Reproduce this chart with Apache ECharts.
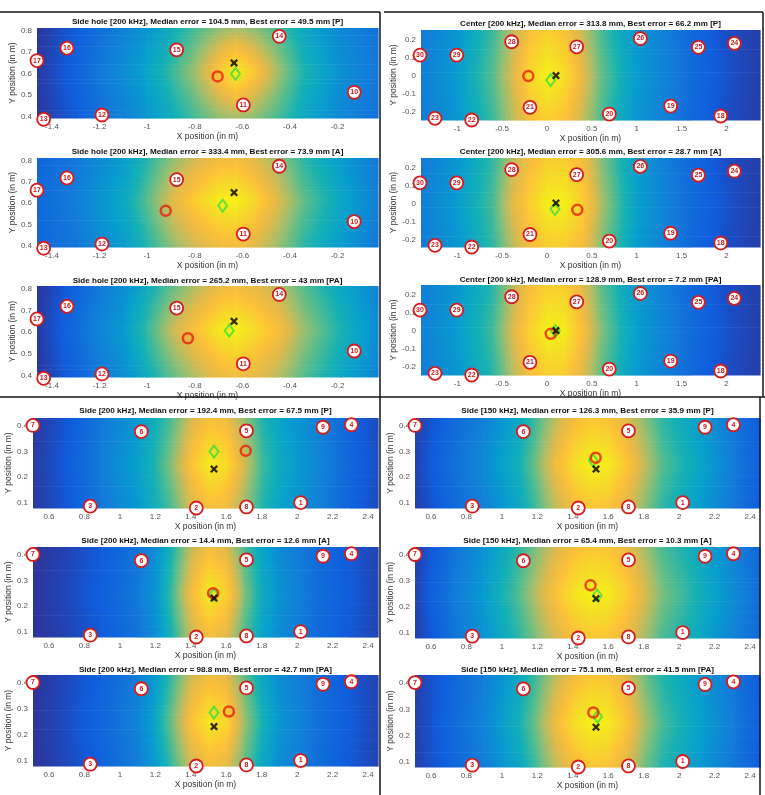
<!DOCTYPE html>
<html>
<head>
<meta charset="utf-8">
<script src="https://cdn.jsdelivr.net/npm/echarts@6/dist/echarts.min.js"></script>
<style>
html, body { margin: 0; padding: 0; background: #fff; }
#chart { width: 765px; height: 795px; }
</style>
</head>
<body>
<div id="chart"></div>
<script>
// sensors: [label, x, y]
const holeSensors = [['16', -1.337, 0.719], ['15', -0.876, 0.711], ['14', -0.445, 0.774], ['17', -1.463, 0.661],
    ['13', -1.435, 0.387], ['12', -1.19, 0.407], ['11', -0.596, 0.454], ['10', -0.13, 0.513]];
const centerSensors = [['28', -0.394, 0.19], ['27', 0.331, 0.162], ['26', 1.041, 0.208], ['25', 1.688, 0.159],
    ['24', 2.089, 0.181], ['30', -1.416, 0.116], ['29', -1.007, 0.116], ['23', -1.249, -0.234], ['22', -0.84, -0.243],
    ['21', -0.19, -0.173], ['20', 0.695, -0.21], ['19', 1.379, -0.166], ['18', 1.937, -0.221]];
const sideSensors = [['7', 0.51, 0.402], ['6', 1.121, 0.378], ['5', 1.714, 0.381], ['9', 2.146, 0.395], ['4', 2.306, 0.405],
    ['3', 0.833, 0.087], ['2', 1.431, 0.08], ['8', 1.714, 0.084], ['1', 2.02, 0.101]];

// true source positions
const holeTruth = [-0.635, 0.65];
const centerTruth = [0.1, 0.003];
const sideTruth = [1.531, 0.232];

// per panel: estimate (red circle) and best (green diamond)
const estimates = [[-0.704, 0.587], [-0.922, 0.564], [-0.829, 0.572], [-0.208, 0.0], [0.338, -0.035], [0.041, -0.015],
    [1.71, 0.303], [1.526, 0.251], [1.615, 0.29], [1.529, 0.276], [1.5, 0.283], [1.516, 0.288]];
const bests = [[-0.629, 0.599], [-0.683, 0.588], [-0.655, 0.607], [0.041, -0.022], [0.089, -0.031], [0.093, 0.0],
    [1.531, 0.3], [1.53, 0.245], [1.531, 0.286], [1.515, 0.265], [1.538, 0.244], [1.54, 0.272]];

const panelTitles = [
    'Side hole [200 kHz], Median error = 104.5 mm, Best error = 49.5 mm [P]',
    'Side hole [200 kHz], Median error = 333.4 mm, Best error = 73.9 mm [A]',
    'Side hole [200 kHz], Median error = 265.2 mm, Best error = 43 mm [PA]',
    'Center [200 kHz], Median error = 313.8 mm, Best error = 66.2 mm [P]',
    'Center [200 kHz], Median error = 305.6 mm, Best error = 28.7 mm [A]',
    'Center [200 kHz], Median error = 128.9 mm, Best error = 7.2 mm [PA]',
    'Side [200 kHz], Median error = 192.4 mm, Best error = 67.5 mm [P]',
    'Side [200 kHz], Median error = 14.4 mm, Best error = 12.6 mm [A]',
    'Side [200 kHz], Median error = 98.8 mm, Best error = 42.7 mm [PA]',
    'Side [150 kHz], Median error = 126.3 mm, Best error = 35.9 mm [P]',
    'Side [150 kHz], Median error = 65.4 mm, Best error = 10.3 mm [A]',
    'Side [150 kHz], Median error = 75.1 mm, Best error = 41.5 mm [PA]'
];

// axis ticks
const holeXTicks = [-1.4, -1.2, -1, -0.8, -0.6, -0.4, -0.2];
const holeYTicks = [0.4, 0.5, 0.6, 0.7, 0.8];
const centerXTicks = [-1, -0.5, 0, 0.5, 1, 1.5, 2];
const centerYTicks = [-0.2, -0.1, 0, 0.1, 0.2];
const sideXTicks = [0.6, 0.8, 1, 1.2, 1.4, 1.6, 1.8, 2, 2.2, 2.4];
const sideYTicks = [0.1, 0.2, 0.3, 0.4];

// error-map nodes (x columns, y rows top/mid/bottom) and normalized levels
const holeXs = [-1.463, -1.3, -1.1, -1.0, -0.9, -0.8, -0.7, -0.63, -0.55, -0.45, -0.35, -0.2, -0.03];
const holeYs = [0.813, 0.61, 0.393];
const centerXs = [-1.405, -1.0, -0.6, -0.4, -0.2, 0, 0.2, 0.4, 0.6, 0.8, 1.0, 1.3, 1.6, 2.0, 2.375];
const centerYs = [0.255, 0.0, -0.243];
const sideXs = [0.51, 0.7, 0.9, 1.1, 1.2, 1.3, 1.4, 1.5, 1.6, 1.7, 1.8, 1.9, 2.1, 2.3, 2.456];
const sideYs = [0.431, 0.25, 0.08];

const holePTop = [0.02, 0.1, 0.21, 0.28, 0.37, 0.47, 0.57, 0.6, 0.56, 0.47, 0.36, 0.24, 0.16];
const holePMid = [0.03, 0.12, 0.25, 0.33, 0.45, 0.6, 0.82, 0.97, 0.82, 0.6, 0.42, 0.27, 0.18];
const holeATop = [0.13, 0.18, 0.3, 0.42, 0.56, 0.67, 0.75, 0.76, 0.7, 0.58, 0.44, 0.31, 0.18];
const holeAMid = [0.14, 0.2, 0.35, 0.5, 0.7, 0.85, 0.96, 0.97, 0.88, 0.7, 0.52, 0.36, 0.2];
const holePATop = [0.02, 0.12, 0.25, 0.37, 0.5, 0.62, 0.73, 0.76, 0.72, 0.63, 0.5, 0.36, 0.22];
const holePAMid = [0.03, 0.15, 0.3, 0.45, 0.65, 0.8, 0.94, 0.97, 0.9, 0.78, 0.6, 0.42, 0.25];

const centerPTop = [0.19, 0.28, 0.46, 0.62, 0.78, 0.85, 0.8, 0.65, 0.48, 0.37, 0.28, 0.21, 0.14, 0.07, 0.04];
const centerPMid = [0.2, 0.3, 0.5, 0.68, 0.88, 0.97, 0.9, 0.72, 0.52, 0.4, 0.3, 0.22, 0.15, 0.08, 0.04];
const centerATop = [0.19, 0.28, 0.44, 0.62, 0.76, 0.84, 0.84, 0.76, 0.56, 0.42, 0.3, 0.21, 0.14, 0.07, 0.04];
const centerAMid = [0.2, 0.3, 0.48, 0.7, 0.85, 0.96, 0.96, 0.85, 0.62, 0.45, 0.32, 0.22, 0.15, 0.08, 0.04];
const centerPATop = [0.2, 0.28, 0.43, 0.61, 0.77, 0.85, 0.84, 0.7, 0.51, 0.39, 0.29, 0.21, 0.14, 0.07, 0.04];
const centerPAMid = [0.21, 0.3, 0.47, 0.68, 0.86, 0.97, 0.95, 0.78, 0.56, 0.42, 0.31, 0.22, 0.15, 0.08, 0.04];

const side200PTop = [0.03, 0.09, 0.18, 0.29, 0.38, 0.5, 0.68, 0.78, 0.75, 0.58, 0.42, 0.33, 0.22, 0.12, 0.06];
const side200PMid = [0.03, 0.1, 0.2, 0.32, 0.42, 0.58, 0.8, 0.95, 0.9, 0.68, 0.47, 0.36, 0.24, 0.13, 0.07];
const side200ATop = [0.02, 0.05, 0.1, 0.17, 0.25, 0.42, 0.64, 0.77, 0.7, 0.48, 0.33, 0.24, 0.15, 0.09, 0.05];
const side200AMid = [0.02, 0.06, 0.11, 0.19, 0.28, 0.48, 0.76, 0.95, 0.86, 0.56, 0.37, 0.27, 0.16, 0.1, 0.05];
const side200PATop = [0.02, 0.06, 0.12, 0.2, 0.3, 0.47, 0.66, 0.76, 0.72, 0.51, 0.35, 0.25, 0.16, 0.09, 0.05];
const side200PAMid = [0.02, 0.07, 0.13, 0.22, 0.34, 0.55, 0.8, 0.94, 0.88, 0.6, 0.4, 0.28, 0.17, 0.1, 0.05];

const side150PTop = [0.04, 0.13, 0.21, 0.35, 0.48, 0.64, 0.76, 0.82, 0.8, 0.7, 0.57, 0.44, 0.31, 0.18, 0.1];
const side150PMid = [0.05, 0.15, 0.24, 0.4, 0.55, 0.75, 0.9, 0.97, 0.95, 0.82, 0.66, 0.5, 0.35, 0.2, 0.11];
const side150ATop = [0.04, 0.15, 0.27, 0.44, 0.56, 0.68, 0.78, 0.82, 0.81, 0.73, 0.61, 0.48, 0.36, 0.22, 0.13];
const side150AMid = [0.05, 0.17, 0.3, 0.5, 0.65, 0.8, 0.92, 0.97, 0.95, 0.85, 0.7, 0.55, 0.4, 0.25, 0.15];
const side150PATop = [0.04, 0.12, 0.2, 0.35, 0.48, 0.64, 0.76, 0.82, 0.8, 0.7, 0.54, 0.42, 0.3, 0.18, 0.1];
const side150PAMid = [0.04, 0.13, 0.22, 0.4, 0.55, 0.75, 0.9, 0.97, 0.95, 0.82, 0.62, 0.48, 0.33, 0.2, 0.11];

// maps are symmetric top/bottom
const panelFields = [
    [holePTop, holePMid, holePTop], [holeATop, holeAMid, holeATop], [holePATop, holePAMid, holePATop],
    [centerPTop, centerPMid, centerPTop], [centerATop, centerAMid, centerATop], [centerPATop, centerPAMid, centerPATop],
    [side200PTop, side200PMid, side200PTop], [side200ATop, side200AMid, side200ATop], [side200PATop, side200PAMid, side200PATop],
    [side150PTop, side150PMid, side150PTop], [side150ATop, side150AMid, side150ATop], [side150PATop, side150PAMid, side150PATop]
];

const groups = {
    hole: { xr: [-1.463, -0.03], yr: [0.393, 0.813], xt: holeXTicks, yt: holeYTicks, xs: holeXs, ys: holeYs, sensors: holeSensors, truth: holeTruth },
    center: { xr: [-1.405, 2.375], yr: [-0.243, 0.255], xt: centerXTicks, yt: centerYTicks, xs: centerXs, ys: centerYs, sensors: centerSensors, truth: centerTruth },
    side: { xr: [0.51, 2.456], yr: [0.08, 0.431], xt: sideXTicks, yt: sideYTicks, xs: sideXs, ys: sideYs, sensors: sideSensors, truth: sideTruth }
};
const panelGroup = ['hole', 'hole', 'hole', 'center', 'center', 'center', 'side', 'side', 'side', 'side', 'side', 'side'];

// layout: [left, top, width, height], title y, y-name gap
const panelBoxes = [
    [37, 28, 341, 90, 22, 17.5], [37, 158, 341, 89, 152, 17.5], [37, 286, 341, 91, 281, 17.5],
    [421, 30, 339, 90, 24, 19.5], [421, 158, 339, 89, 152, 19.5], [421, 285, 339, 90, 280, 19.5],
    [33, 418, 345, 90, 411, 16.5], [33, 547, 345, 90, 541, 16.5], [33, 675, 345, 91, 670, 16.5],
    [415, 418, 345, 90, 411, 17], [415, 547, 345, 91, 541, 17], [415, 675, 345, 92, 670, 17]
];

// parula colormap
const parulaStops = [[53, 42, 135], [15, 92, 221], [18, 125, 216], [7, 156, 207], [21, 177, 180], [89, 189, 140],
    [165, 190, 107], [225, 185, 74], [252, 193, 56], [245, 221, 38], [249, 251, 14]];
function parula(v) {
    v = Math.max(0, Math.min(1, v)) * 10;
    const i = Math.min(9, Math.floor(v)), t = v - i;
    const a = parulaStops[i], b = parulaStops[i + 1];
    return 'rgb(' + a.map((c, k) => Math.round(c + (b[k] - c) * t)).join(',') + ')';
}

// one cell between four map nodes, shaded like matlab "interp"
function renderCell(params, api) {
    const pa = api.coord([api.value(0), api.value(1)]);
    const pb = api.coord([api.value(2), api.value(3)]);
    const v00 = api.value(4), v10 = api.value(5), v01 = api.value(6), v11 = api.value(7);
    const n = 12, kids = [];
    for (let k = 0; k < n; k++) {
        const t = (k + 0.5) / n;
        const lv = v00 + (v01 - v00) * t, rv = v10 + (v11 - v10) * t;
        const stops = [];
        for (let s = 0; s <= 5; s++) stops.push({ offset: s / 5, color: parula(lv + (rv - lv) * s / 5) });
        const ya = pa[1] + (pb[1] - pa[1]) * k / n, yb = pa[1] + (pb[1] - pa[1]) * (k + 1) / n;
        kids.push({
            type: 'rect',
            shape: { x: pa[0], y: Math.min(ya, yb), width: pb[0] - pa[0] + 0.6, height: Math.abs(yb - ya) + 0.6 },
            style: { fill: new echarts.graphic.LinearGradient(0, 0, 1, 0, stops) }
        });
    }
    return { type: 'group', children: kids };
}

function fieldSeries(xs, ys, rows, gi) {
    const cells = [];
    for (let r = 0; r < ys.length - 1; r++) {
        for (let c = 0; c < xs.length - 1; c++) {
            cells.push([xs[c], ys[r], xs[c + 1], ys[r + 1], rows[r][c], rows[r][c + 1], rows[r + 1][c], rows[r + 1][c + 1]]);
        }
    }
    return {
        type: 'custom', xAxisIndex: gi, yAxisIndex: gi, data: cells, renderItem: renderCell,
        encode: { x: [0, 2], y: [1, 3] }, silent: true, z: 1
    };
}

const fontFamily = '"Liberation Sans", Arial, Helvetica, sans-serif';
const fmt = v => String(Math.round(v * 10) / 10);
const crossPath = 'path://M0,2L2,0L5,3L8,0L10,2L7,5L10,8L8,10L5,7L2,10L0,8L3,5Z';

const grids = [], xAxes = [], yAxes = [], series = [], graphics = [];

panelTitles.forEach((title, i) => {
    const g = groups[panelGroup[i]];
    const [l, t, w, h, ty, yGap] = panelBoxes[i];
    grids.push({ left: l, top: t, width: w, height: h });
    xAxes.push({
        type: 'value', gridIndex: i, min: g.xr[0], max: g.xr[1],
        name: 'X position (in m)', nameLocation: 'middle', nameGap: 14,
        nameTextStyle: { fontSize: 8.5, color: '#333', fontFamily },
        axisLine: { show: false }, axisTick: { show: false }, splitLine: { show: false },
        axisLabel: { customValues: g.xt, formatter: fmt, fontSize: 8, color: '#555', margin: 5, fontFamily }
    });
    yAxes.push({
        type: 'value', gridIndex: i, min: g.yr[0], max: g.yr[1],
        name: 'Y position (in m)', nameLocation: 'middle', nameGap: yGap,
        nameTextStyle: { fontSize: 8.5, color: '#333', fontFamily },
        axisLine: { show: false }, axisTick: { show: false }, splitLine: { show: false },
        axisLabel: { customValues: g.yt, formatter: fmt, fontSize: 8, color: '#555', margin: 5, fontFamily }
    });
    series.push(fieldSeries(g.xs, g.ys, panelFields[i], i));
    series.push({
        type: 'scatter', xAxisIndex: i, yAxisIndex: i, silent: true, clip: false, z: 3,
        data: g.sensors.map(s => [s[1], s[2], s[0]]),
        symbol: 'circle', symbolSize: 13,
        itemStyle: { color: '#fff', borderColor: '#d81c1c', borderWidth: 1.8, opacity: 1 },
        label: { show: true, position: 'inside', formatter: p => p.value[2], color: '#d01818', fontSize: 7, fontWeight: 'bold', fontFamily }
    });
    series.push({
        type: 'scatter', xAxisIndex: i, yAxisIndex: i, silent: true, clip: false, z: 4,
        data: [bests[i]], symbol: 'diamond', symbolSize: [9, 12],
        itemStyle: { color: 'rgba(0,0,0,0)', borderColor: '#3be03b', borderWidth: 2 }
    });
    series.push({
        type: 'scatter', xAxisIndex: i, yAxisIndex: i, silent: true, clip: false, z: 5,
        data: [estimates[i]], symbol: 'circle', symbolSize: 10,
        itemStyle: { color: 'rgba(0,0,0,0)', borderColor: '#e8210c', borderWidth: 2.5 }
    });
    series.push({
        type: 'scatter', xAxisIndex: i, yAxisIndex: i, silent: true, clip: false, z: 6,
        data: [g.truth], symbol: crossPath, symbolSize: 8,
        itemStyle: { color: '#000' }
    });
    graphics.push({
        type: 'text', x: l + w / 2, y: ty, z: 10,
        style: { text: title, align: 'center', verticalAlign: 'middle', fill: '#111', font: 'bold 8.1px ' + fontFamily }
    });
});

// figure frames
const frameLines = [[0, 12, 380, 12], [384, 12, 763, 12], [380, 12, 380, 397], [763, 12, 763, 397],
    [0, 397, 765, 397], [380, 397, 380, 795], [760, 397, 760, 795]];
frameLines.forEach(s => graphics.push({
    type: 'line', z: 10, shape: { x1: s[0], y1: s[1], x2: s[2], y2: s[3] }, style: { stroke: '#151515', lineWidth: 1.5 }
}));

const chart = echarts.init(document.getElementById('chart'));
chart.setOption({
    animation: false,
    backgroundColor: '#fff',
    textStyle: { fontFamily },
    grid: grids,
    xAxis: xAxes,
    yAxis: yAxes,
    series: series,
    graphic: graphics
});
</script>
</body>
</html>
